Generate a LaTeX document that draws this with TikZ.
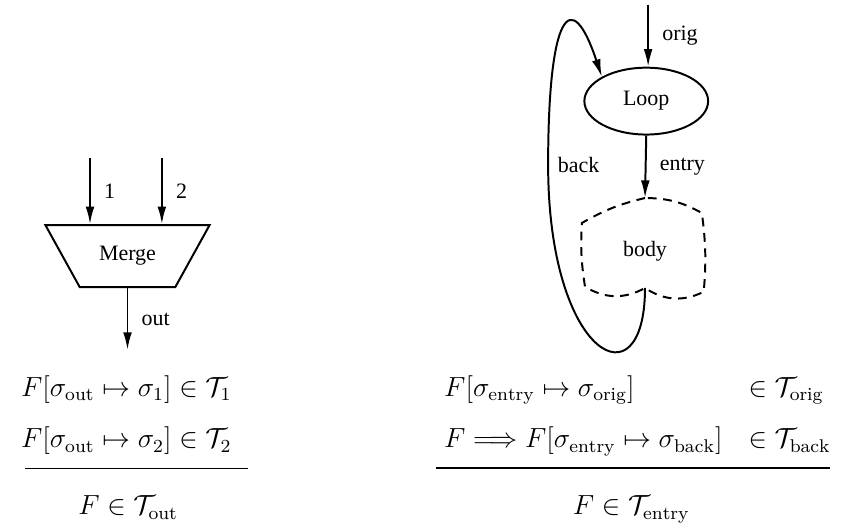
\documentclass[tikz,border=0pt,12pt]{standalone}
\usepackage{amsmath,amssymb}
\usepackage{fontspec}
\newfontfamily\lblfont{Liberation Serif}
\usetikzlibrary{arrows.meta,positioning,shapes.geometric,calc}

\begin{document}
\begin{tikzpicture}[
        lbl/.style={font=\lblfont\fontsize{10}{12}\selectfont},
        arr/.style={-{Latex[length=8pt,width=4pt]}, line width=0.9pt},
        mergebox/.style={draw, line width=0.9pt, trapezium, shape border rotate=180,
                         trapezium angle=54, trapezium stretches=true,
                         minimum width=2.64cm, minimum height=0.99cm, lbl},
        loopbox/.style={draw, ellipse, line width=0.9pt, minimum width=1.98cm,
                        minimum height=1.07cm, lbl},
        blob/.style={dashed, dash pattern=on 4pt off 3pt, line width=0.9pt},
        mathtxt/.style={inner sep=0pt, scale=1.05, transform shape},
        ruleline/.style={line width=0.6pt},
    ]
    \useasboundingbox (0,0) rectangle (13.456,8.368);

    % Merge -- left side
    \node[mergebox] (merge) at (2.04,4.27) {Merge};
    \coordinate (in1) at (1.44,5.84);
    \coordinate (in2) at (2.59,5.84);
    \coordinate (outend) at (2.02,2.77);
    \draw[arr] (in1) -- node[right, lbl, xshift=2pt] {1} (in1 |- merge.north);
    \draw[arr] (in2) -- node[right, lbl, xshift=2pt] {2} (in2 |- merge.north);
    \draw[arr] (merge.south) -- node[right, lbl, xshift=2pt] {out} (merge.south |- outend);

    % Loop -- right side
    \node[loopbox] (loop) at (10.34,6.75) {Loop};
    \node[lbl] (body) at (10.32,4.35) {body};
    % body outline
    \coordinate (bodytop) at (10.32,5.20);
    \coordinate (bodyl) at (9.31,4.80);
    \coordinate (bodybl) at (9.36,3.78);
    \coordinate (bodybot) at (10.32,3.76);
    \coordinate (bodybr) at (11.26,3.70);
    \coordinate (bodyr) at (11.23,4.96);
    \draw[blob] (bodytop) to[bend right=8] (bodyl) to[bend right=6] (bodybl)
        to[bend right=30] (bodybot) to[bend right=30] (bodybr)
        to[bend right=6] (bodyr) to[bend right=14] cycle;

    \coordinate (origtop) at (10.37,8.29);
    \coordinate (backpt) at (8.77,5.73);
    \draw[arr] (origtop) -- node[right, lbl, xshift=2pt] {orig} (origtop |- loop.north);
    \draw[arr] (loop.south) -- node[right, lbl, xshift=2pt] {entry} (bodytop);
    \draw[arr] (bodybot) .. controls +(0,-1.9) and +(0,-3.1) .. (backpt)
        node[right, lbl] {back}
        .. controls +(0,2.4) and +(-0.5,1.5) .. (loop.north west);

    % Rules
    \node[mathtxt, anchor=base] (l1) at (2.02,2.02) {$F[\sigma_{\mathrm{out}} \mapsto \sigma_1] \in \mathcal{T}_1$};
    \node[mathtxt, anchor=base] (l2) at (2.02,1.2) {$F[\sigma_{\mathrm{out}} \mapsto \sigma_2] \in \mathcal{T}_2$};
    \coordinate (lrulea) at (0.4,0.87);
    \coordinate (lruleb) at (3.97,0.87);
    \draw[ruleline] (lrulea) -- (lruleb);
    \node[mathtxt, anchor=base] (lconc) at (2.05,0.13) {$F \in \mathcal{T}_{\mathrm{out}}$};

    \node[mathtxt, anchor=base west] (r1) at (7.1,2.02) {$F[\sigma_{\mathrm{entry}} \mapsto \sigma_{\mathrm{orig}}]$};
    \node[mathtxt, anchor=base west] (r1t) at (11.97,2.02) {$\in \mathcal{T}_{\mathrm{orig}}$};
    \node[mathtxt, anchor=base west] (r2) at (7.1,1.2) {$F \Longrightarrow F[\sigma_{\mathrm{entry}} \mapsto \sigma_{\mathrm{back}}]$};
    \node[mathtxt, anchor=base west] (r2t) at (11.97,1.2) {$\in \mathcal{T}_{\mathrm{back}}$};
    \coordinate (rrulea) at (6.98,0.88);
    \coordinate (rruleb) at (13.28,0.88);
    \draw[ruleline] (rrulea) -- (rruleb);
    \node[mathtxt, anchor=base] (rconc) at (10.1,0.13) {$F \in \mathcal{T}_{\mathrm{entry}}$};
    \end{tikzpicture}
\end{document}
